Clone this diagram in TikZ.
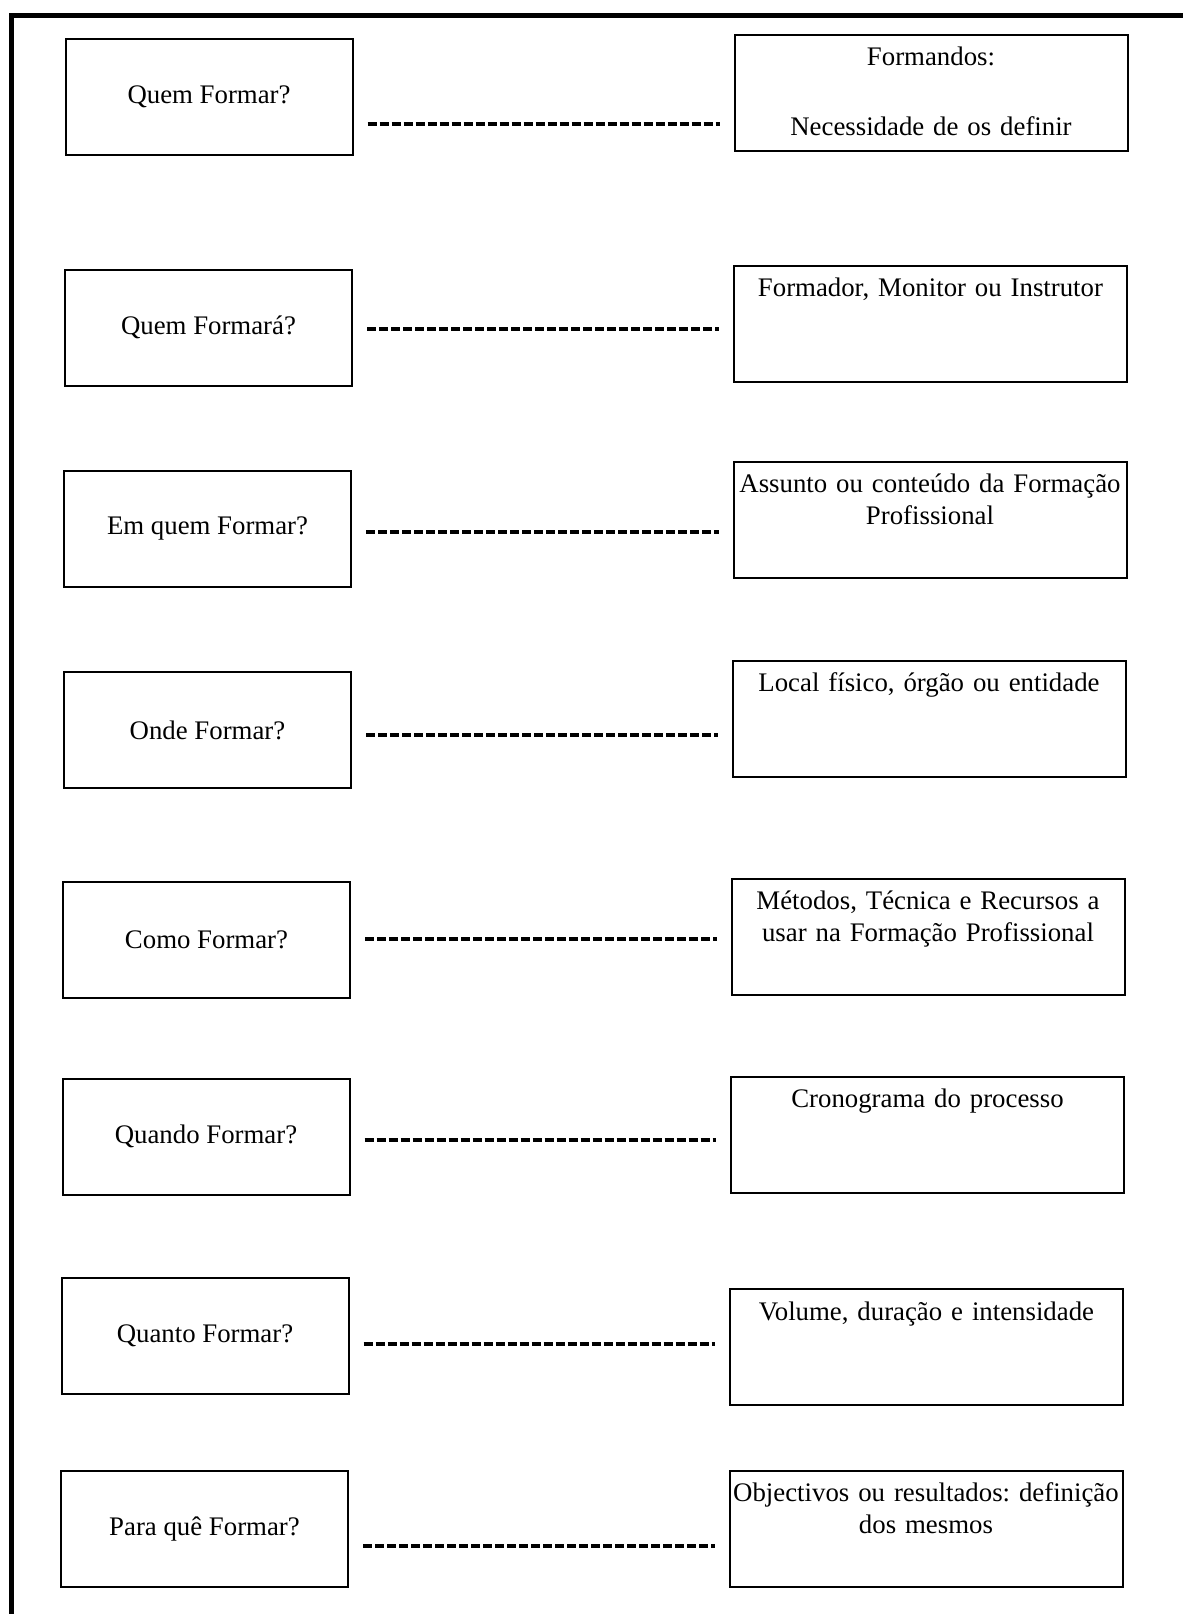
\documentclass[tikz,border=0pt]{standalone}
\usepackage{fontspec}
\setmainfont{Liberation Serif}
\frenchspacing

\begin{document}
\begin{tikzpicture}[x=0.5pt,y=-0.5pt,
  ask/.style={draw, line width=1pt, minimum width=143.5pt, minimum height=58pt,
    inner sep=0pt, font=\fontsize{13.4}{16}\selectfont},
  answer/.style={draw, line width=1pt, minimum width=196.5pt, text width=196pt,
    align=center, inner sep=0pt, text height=15.5pt, text depth=42.5pt,
    font=\fontsize{13.4}{16}\selectfont},
  link/.style={line width=1.8pt, dash pattern=on 4.6pt off 1.4pt,
    shorten <=7pt, shorten >=7pt}]

\useasboundingbox (0,0) rectangle (1183,1614);

% frame
\draw [line width=2.5pt] (11,1614) -- (11,15) -- (1183,15);

% questions
\node [ask] (q1) at (209,97) {Quem Formar?};
\node [ask] (q2) at (208.5,327.5) {Quem Formará?};
\node [ask] (q3) at (207.5,528.5) {Em quem Formar?};
\node [ask] (q4) at (207.5,730) {Onde Formar?};
\node [ask] (q5) at (206.5,939.5) {Como Formar?};
\node [ask] (q6) at (206,1136.5) {Quando Formar?};
\node [ask] (q7) at (205,1335.5) {Quanto Formar?};
\node [ask] (q8) at (204.5,1529) {Para quê Formar?};

% answers
\node [answer] (a1) at (931,92.5) {Formandos:\\[19pt]Necessidade de os definir};
\node [answer] (a2) at (930.5,323.5) {Formador, Monitor ou Instrutor};
\node [answer] (a3) at (930,519.5) {Assunto ou conteúdo da Formação\\Profissional};
\node [answer] (a4) at (929,718.5) {Local físico, órgão ou entidade};
\node [answer] (a5) at (928,936.5) {Métodos, Técnica e Recursos a\\usar na Formação Profissional};
\node [answer] (a6) at (927.5,1134.5) {Cronograma do processo};
\node [answer] (a7) at (926.5,1347) {Volume, duração e intensidade};
\node [answer] (a8) at (926,1528.5) {Objectivos ou resultados: definição\\dos mesmos};

% links
\draw [link] (q1.east |- 0,124) -- (a1.west |- 0,124);
\draw [link] (q2.east |- 0,329) -- (a2.west |- 0,329);
\draw [link] (q3.east |- 0,532) -- (a3.west |- 0,532);
\draw [link] (q4.east |- 0,735) -- (a4.west |- 0,735);
\draw [link] (q5.east |- 0,939) -- (a5.west |- 0,939);
\draw [link] (q6.east |- 0,1140) -- (a6.west |- 0,1140);
\draw [link] (q7.east |- 0,1344) -- (a7.west |- 0,1344);
\draw [link] (q8.east |- 0,1546) -- (a8.west |- 0,1546);

\end{tikzpicture}
\end{document}
